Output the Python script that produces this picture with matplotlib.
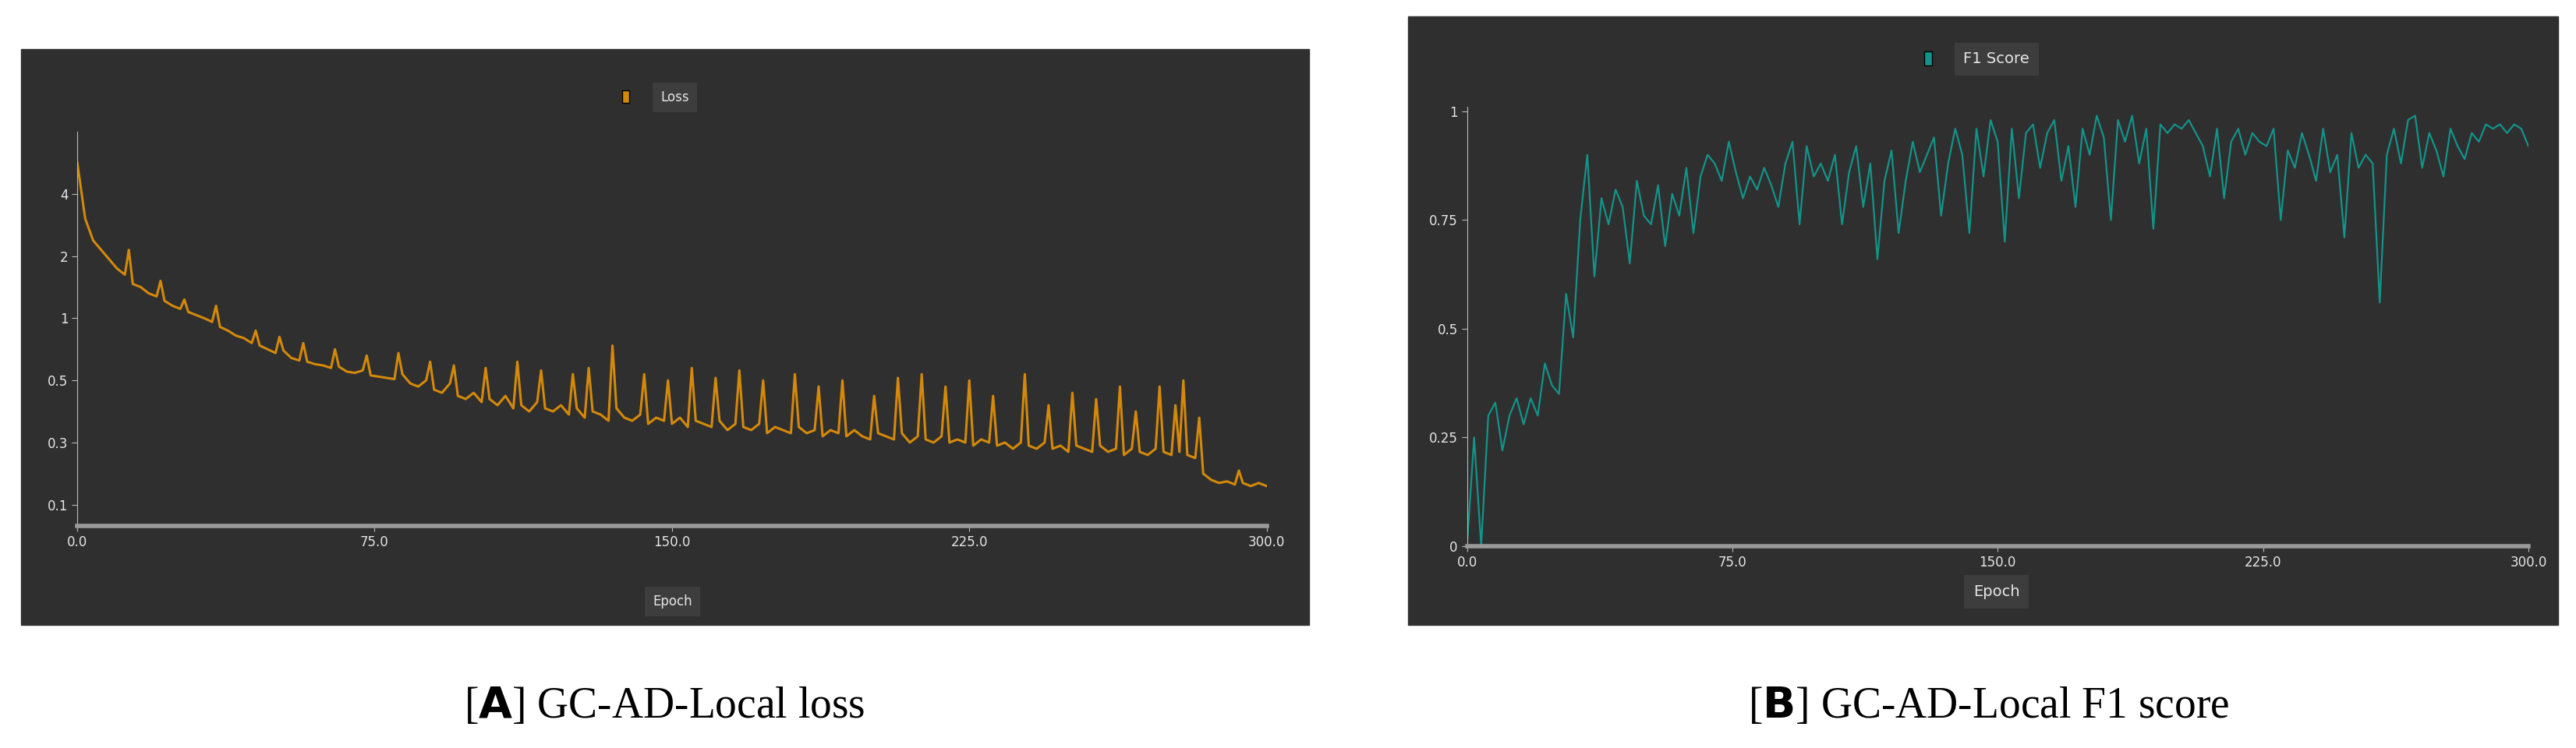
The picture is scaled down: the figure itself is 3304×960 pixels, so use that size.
import numpy as np
import matplotlib
matplotlib.use("Agg")
import matplotlib.pyplot as plt
from matplotlib.patches import Rectangle

loss_epochs = list(range(0, 301, 2))
loss_base = [5.0,3.2,2.5,2.2,1.95,1.8,1.7,1.55,1.5,1.4,
 1.35,1.28,1.2,1.15,1.1,1.05,1.0,0.97,0.93,0.9,
 0.86,0.84,0.8,0.78,0.75,0.72,0.74,0.68,0.66,0.65,
 0.63,0.62,0.6,0.61,0.57,0.56,0.58,0.54,0.53,0.52,
 0.51,0.55,0.49,0.48,0.5,0.47,0.46,0.49,0.45,0.44,
 0.46,0.43,0.44,0.42,0.45,0.41,0.42,0.4,0.43,0.41,
 0.4,0.42,0.39,0.41,0.38,0.4,0.39,0.37,0.41,0.38,
 0.37,0.39,0.36,0.38,0.37,0.36,0.38,0.35,0.37,0.36,
 0.35,0.37,0.34,0.36,0.35,0.34,0.36,0.33,0.35,0.34,
 0.33,0.35,0.33,0.34,0.32,0.34,0.33,0.32,0.34,0.32,
 0.31,0.33,0.32,0.31,0.33,0.3,0.32,0.31,0.3,0.32,
 0.3,0.31,0.3,0.29,0.31,0.3,0.29,0.3,0.28,0.3,
 0.29,0.28,0.3,0.28,0.29,0.27,0.29,0.28,0.27,0.29,
 0.27,0.28,0.26,0.28,0.27,0.26,0.28,0.27,0.26,0.27,
 0.26,0.25,0.2,0.18,0.17,0.175,0.165,0.17,0.16,0.17,
 0.16]
spike_epochs = [13,21,27,35,45,51,57,65,73,81,89,95,103,111,117,125,129,135,143,149,155,161,
                167,173,181,187,193,201,207,213,219,225,231,239,245,251,257,263,267,273,277,279,283,293]
spike_values = [2.2,1.6,1.3,1.2,0.9,0.85,0.8,0.75,0.7,0.72,0.65,0.62,0.6,0.65,0.58,0.55,0.6,0.78,0.55,0.5,0.6,0.52,
                0.58,0.5,0.55,0.48,0.5,0.45,0.52,0.55,0.48,0.5,0.45,0.55,0.42,0.46,0.44,0.48,0.4,0.48,0.42,0.5,0.38,0.21]

f1_epochs = list(range(0, 301, 2))
f1_values = [0,0.25,0,0.3,0.33,0.22,0.3,0.34,0.28,0.34,
 0.3,0.42,0.37,0.35,0.58,0.48,0.75,0.9,0.62,0.8,
 0.74,0.82,0.78,0.65,0.84,0.76,0.74,0.83,0.69,0.81,
 0.76,0.87,0.72,0.85,0.9,0.88,0.84,0.93,0.86,0.8,
 0.85,0.82,0.87,0.83,0.78,0.88,0.93,0.74,0.92,0.85,
 0.88,0.84,0.9,0.74,0.86,0.92,0.78,0.88,0.66,0.84,
 0.91,0.72,0.84,0.93,0.86,0.9,0.94,0.76,0.88,0.96,
 0.9,0.72,0.96,0.85,0.98,0.93,0.7,0.96,0.8,0.95,
 0.97,0.87,0.95,0.98,0.84,0.92,0.78,0.96,0.9,0.99,
 0.94,0.75,0.98,0.93,0.99,0.88,0.96,0.73,0.97,0.95,
 0.97,0.96,0.98,0.95,0.92,0.85,0.96,0.8,0.93,0.96,
 0.9,0.95,0.93,0.92,0.96,0.75,0.91,0.87,0.95,0.9,
 0.84,0.96,0.86,0.9,0.71,0.95,0.87,0.9,0.88,0.56,
 0.9,0.96,0.88,0.98,0.99,0.87,0.95,0.91,0.85,0.96,
 0.92,0.89,0.95,0.93,0.97,0.96,0.97,0.95,0.97,0.96,
 0.92]

x_ticks = [0, 75, 150, 225, 300]
x_tick_labels = ["0.0", "75.0", "150.0", "225.0", "300.0"]
loss_ticks = [0.1, 0.3, 0.5, 1, 2, 4]
loss_tick_labels = ["0.1", "0.3", "0.5", "1", "2", "4"]
f1_ticks = [0, 0.25, 0.5, 0.75, 1]
f1_tick_labels = ["0", "0.25", "0.5", "0.75", "1"]

BG = "#2f2f2f"
TXT = "#e6e6e6"
ORANGE = "#d4890a"
TEAL = "#12948a"

anchor_v = [0.0, 0.1, 0.3, 0.5, 1, 2, 4, 6]
anchor_p = [-0.34, 0, 1, 2, 3, 4, 5, 6]
fwd = lambda v: np.interp(v, anchor_v, anchor_p)
inv = lambda p: np.interp(p, anchor_p, anchor_v)

fig = plt.figure(figsize=(33.04, 9.6), dpi=100)
fig.patch.set_facecolor("white")
fig.add_artist(Rectangle((0.0083, 0.165), 0.5, 0.769, transform=fig.transFigure, color=BG, zorder=0))
fig.add_artist(Rectangle((0.5466, 0.165), 0.4464, 0.813, transform=fig.transFigure, color=BG, zorder=0))

def style(ax):
    ax.set_facecolor(BG)
    for s in ["top", "right"]:
        ax.spines[s].set_visible(False)
    ax.spines["left"].set_color("#bbbbbb")
    ax.spines["bottom"].set_color("#9a9a9a")
    ax.spines["bottom"].set_linewidth(4)
    ax.tick_params(colors="#bbbbbb", labelcolor=TXT, labelsize=12, length=5)
    ax.set_xlim(0, 300)
    ax.set_xticks(x_ticks)
    ax.set_xticklabels(x_tick_labels)

# Loss
ax1 = fig.add_axes([0.030, 0.297, 0.4617, 0.527])
style(ax1)
ax1.set_yscale("function", functions=(fwd, inv))
ex = np.array(loss_epochs + spike_epochs, dtype=float)
ev = np.array(loss_base + spike_values)
o = np.argsort(ex)
ax1.plot(ex[o], ev[o], color=ORANGE, lw=2.2)
ax1.set_ylim(0, 6)
ax1.set_yticks(loss_ticks)
ax1.set_yticklabels(loss_tick_labels)
ax1.minorticks_off()

# F1
ax2 = fig.add_axes([0.5695, 0.270, 0.412, 0.587])
style(ax2)
ax2.plot(f1_epochs, f1_values, color=TEAL, lw=1.6)
ax2.set_ylim(0, 1.01)
ax2.set_yticks(f1_ticks)
ax2.set_yticklabels(f1_tick_labels)

def box_label(x, y, text, fs):
    fig.text(x, y, text, color=TXT, fontsize=fs, ha="center", va="center",
             bbox=dict(boxstyle="square,pad=0.6", fc="#3d3d3d", ec="none"))

box_label(0.262, 0.870, "Loss", 12)
fig.add_artist(Rectangle((0.2415, 0.862), 0.0028, 0.017, transform=fig.transFigure, fc=ORANGE, ec="black", lw=1))
box_label(0.775, 0.921, "F1 Score", 14)
fig.add_artist(Rectangle((0.7470, 0.912), 0.0030, 0.019, transform=fig.transFigure, fc=TEAL, ec="black", lw=1))
box_label(0.261, 0.196, "Epoch", 12)
box_label(0.775, 0.209, "Epoch", 14)

fig.text(0.258, 0.055, r"[$\mathbf{A}$] GC-AD-Local loss", fontsize=40, ha="center", va="center",
         family="Liberation Serif")
fig.text(0.772, 0.055, r"[$\mathbf{B}$] GC-AD-Local F1 score", fontsize=40, ha="center", va="center",
         family="Liberation Serif")
plt.rcParams["mathtext.fontset"] = "custom"
fig.savefig("out.png", dpi=100)
